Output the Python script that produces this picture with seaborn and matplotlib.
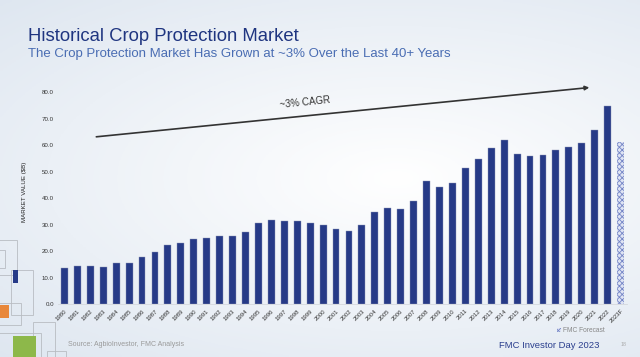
"""
Historical crop protection market, 1980-2023F (FMC Investor Day 2023 slide).
"""
import numpy as np
import pandas as pd
import matplotlib; matplotlib.use('Agg')
import matplotlib.pyplot as plt
from matplotlib.patches import Rectangle, Patch
import seaborn as sns

# Data
years = [str(y) for y in range(1980, 2023)] + ['2023F']
market_value = [13.6, 14.6, 14.6, 14.2, 15.7, 15.7, 18.0, 19.8, 22.5, 23.2,
                24.5, 25.0, 25.9, 25.9, 27.3, 30.6, 31.7, 31.3, 31.3, 30.6,
                30.0, 28.5, 27.8, 29.8, 34.7, 36.3, 35.8, 39.1, 46.4, 44.4,
                45.9, 51.4, 54.8, 58.9, 61.9, 56.8, 55.8, 56.3, 58.2, 59.2,
                60.8, 65.8, 74.7, 61.4]
y_ticks = [0, 10, 20, 30, 40, 50, 60, 70, 80]

title = 'Historical Crop Protection Market'
subtitle = 'The Crop Protection Market Has Grown at ~3% Over the Last 40+ Years'
y_label = 'MARKET VALUE ($B)'
cagr_label = '~3% CAGR'
source = 'Source: AgbioInvestor, FMC Analysis'
footer = 'FMC Investor Day 2023'
page_no = '18'

# CAGR arrow (bar index, value)
arrow_start = (2.25, 63.1)
arrow_end = (40.8, 81.9)

NAVY = '#263a87'
W, H = 640, 357

sns.set_style('white')
plt.rcParams['font.family'] = ['Liberation Sans', 'DejaVu Sans']
plt.rcParams['hatch.linewidth'] = 0.6

fig = plt.figure(figsize=(W / 100, H / 100), dpi=100)

# soft background gradient
bg = fig.add_axes([0, 0, 1, 1], zorder=-10)
gx, gy = np.meshgrid(np.linspace(0, 1, 200), np.linspace(0, 1, 120))
dist = np.clip(np.hypot((gx - 0.62) * 1.1, (gy - 0.5) * 1.4), 0, 1)
c_out = np.array([0.90, 0.925, 0.955])
img = 1 - dist[..., None] * (1 - c_out) * 1.3
bg.imshow(np.clip(img, 0, 1), aspect='auto', extent=[0, 1, 0, 1])
bg.axis('off')

# decorative squares bottom-left (pixel boxes: x0, y0, x1, y1)
def deco(x0, y0, x1, y1, fc='none', ec='#b8bcc2', lw=0.6):
    fig.add_artist(Rectangle((x0 / W, 1 - y1 / H), (x1 - x0) / W, (y1 - y0) / H,
                             transform=fig.transFigure, fc=fc, ec=ec, lw=lw))

deco(-2, 240, 17, 275)
deco(-2, 250, 5, 268)
deco(11, 270, 33, 315)
deco(13, 270, 18, 283, fc=NAVY, ec='none')
deco(-2, 303, 21, 325)
deco(-2, 305, 9, 318, fc='#e8873a', ec='none')
deco(-2, 333, 41, 360)
deco(33, 322, 55, 360)
deco(13, 336, 36, 357, fc='#8db84a', ec='none')
deco(47, 351, 66, 360)

# chart
ax = fig.add_axes([0.0906, 0.1476, 0.8891, 0.631])
ax.set_facecolor('none')
df = pd.DataFrame({'year': years, 'value': market_value})
sns.barplot(data=df, x='year', y='value', color=NAVY, saturation=1,
            width=0.53, edgecolor='#8d95b5', linewidth=0.3, ax=ax)

fc_bar = ax.patches[-1]
fc_bar.set_facecolor('#dfe4f3')
fc_bar.set_edgecolor('#7384c6')
fc_bar.set_hatch('xxxxxx')
fc_bar.set_linewidth(0)

ax.set_xlim(-0.5, len(years) - 0.5)
ax.set_ylim(0, 85)
ax.set_yticks(y_ticks)
ax.set_yticklabels([f'{v:.1f}' for v in y_ticks], fontsize=4.4, color='#333333')
ax.set_xticks(range(len(years)))
ax.set_xticklabels(years, rotation=45, ha='right', rotation_mode='anchor',
                   fontsize=4.3, color='#333333')
ax.tick_params(axis='both', length=0, pad=3)
ax.set_xlabel('')
ax.set_ylabel(y_label, fontsize=4.4, color='#222222', labelpad=11)
for s in ['top', 'right', 'left']:
    ax.spines[s].set_visible(False)
ax.spines['bottom'].set_color('#d5d8dd')
ax.spines['bottom'].set_linewidth(0.6)

ax.annotate('', xy=arrow_end, xytext=arrow_start,
            arrowprops=dict(arrowstyle='-|>', color='#333333', lw=1.2,
                            mutation_scale=6), annotation_clip=False)
ax.text(18.6, 76.0, cagr_label, fontsize=7.0, color='#333333',
        rotation=5.8, ha='center', va='center', rotation_mode='anchor')

ax.legend(handles=[Patch(facecolor='#dfe4f3', edgecolor='#7384c6', hatch='xxxxxx', lw=0)],
          labels=['FMC Forecast'], loc='center left', frameon=False,
          bbox_to_anchor=(557 / W, 1 - 331 / H), bbox_transform=fig.transFigure,
          fontsize=4.8, labelcolor='#888888', handlelength=0.6, handleheight=0.6,
          handletextpad=0.3, borderpad=0, borderaxespad=0)

# page text
fig.text(28 / W, 1 - 40.7 / H, title, fontsize=13.3, color='#1f3580', va='baseline')
fig.text(28 / W, 1 - 56.7 / H, subtitle, fontsize=9.5, color='#4a6db3', va='baseline')
fig.text(68 / W, 1 - 344 / H, source, fontsize=5.0, color='#9a9a9a', va='center')
fig.text(599 / W, 1 - 345 / H, footer, fontsize=6.8, color='#2b3f8e',
         va='center', ha='right')
fig.text(624 / W, 1 - 345 / H, page_no, fontsize=3.8, color='#aaaaaa',
         va='center', ha='center')

fig.savefig('out.png', dpi=100)
plt.close(fig)
